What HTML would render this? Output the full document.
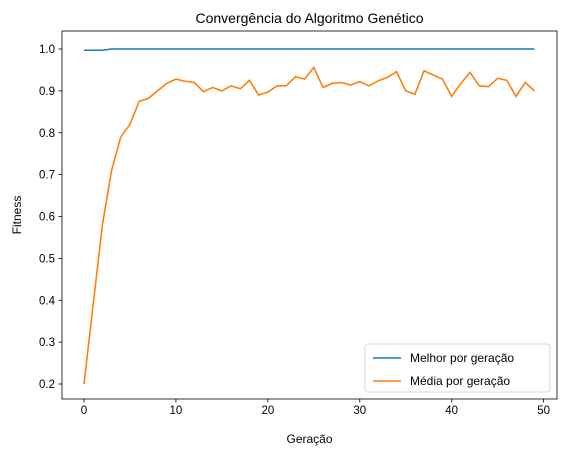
<!DOCTYPE html>
<html><head><meta charset="utf-8"><style>
body{margin:0;background:#fff}
svg{font-family:"Liberation Sans","DejaVu Sans",sans-serif}
</style></head><body>
<svg id="c" width="567" height="455"></svg>
<script>
const generations=[...Array(50).keys()];
const best=[0.997,0.997,0.997,1,1,1,1,1,1,1,1,1,1,1,1,1,1,1,1,1,1,1,1,1,1,1,1,1,1,1,1,1,1,1,1,1,1,1,1,1,1,1,1,1,1,1,1,1,1,1];
const mean=[0.20,0.39,0.58,0.71,0.79,0.82,0.875,0.882,0.90,0.918,0.928,0.923,0.92,0.898,0.908,0.900,0.912,0.905,0.925,0.89,0.897,0.912,0.912,0.934,0.928,0.956,0.908,0.918,0.92,0.914,0.922,0.912,0.924,0.932,0.946,0.90,0.892,0.948,0.938,0.928,0.887,0.918,0.944,0.912,0.91,0.93,0.925,0.887,0.92,0.90];
const xTicks=[0,10,20,30,40,50];
const yTicks=[0.2,0.3,0.4,0.5,0.6,0.7,0.8,0.9,1.0];
const NS="http://www.w3.org/2000/svg";
const svg=document.getElementById('c');
const L=62,R=557,T=31,B=399;
const xs=v=>84+v*(543.6-84)/50;
const ys=v=>384-(v-0.2)*(384-49)/0.8;
function mk(tag,attrs,parent){const e=document.createElementNS(NS,tag);for(const k in attrs)e.setAttribute(k,attrs[k]);(parent||svg).appendChild(e);return e;}
function txt(s,attrs){const e=mk('text',attrs);e.textContent=s;return e;}
const frame=mk('rect',{x:L,y:T,width:R-L,height:B-T,fill:'none',stroke:'#000','stroke-width':0.8});


xTicks.forEach(t=>{
  const g=mk('g',{});
  
  
  mk('line',{x1:xs(t),x2:xs(t),y1:B,y2:B+3.5,stroke:'#000','stroke-width':0.8},g);
  const e=mk('text',{x:xs(t),y:B+15,'text-anchor':'middle','font-size':11.5},g);e.textContent=t;
});
yTicks.forEach(t=>{
  const g=mk('g',{});
  
  
  mk('line',{x1:L-3.5,x2:L,y1:ys(t),y2:ys(t),stroke:'#000','stroke-width':0.8},g);
  const e=mk('text',{x:L-7,y:ys(t)+4,'text-anchor':'end','font-size':11.5},g);e.textContent=t.toFixed(1);
});
function line(data,color,name){
  const p=mk('polyline',{points:data.map((v,i)=>xs(generations[i])+','+ys(v)).join(' '),fill:'none',stroke:color,'stroke-width':1.6});
  
  
}
line(best,'#1f77b4','best-series-line');
line(mean,'#ff7f0e','mean-series-line');
const t1=txt('Convergência do Algoritmo Genético',{x:(L+R)/2,y:23,'text-anchor':'middle','font-size':14});

const t2=txt('Geração',{x:(L+R)/2,y:443,'text-anchor':'middle','font-size':12});

const t3=txt('Fitness',{x:0,y:0,'text-anchor':'middle','font-size':12,transform:'translate(21,'+((T+B)/2)+') rotate(-90)'});

const lg=mk('g',{});


mk('rect',{x:365,y:344,width:185,height:48,rx:3,fill:'#fff','fill-opacity':0.8,stroke:'#ccc','stroke-width':0.8},lg);
[['Melhor por geração','#1f77b4',358],['Média por geração','#ff7f0e',381]].forEach(([s,c,y],i)=>{
  const g=mk('g',{},lg);
  
  
  mk('line',{x1:373,x2:401,y1:y,y2:y,stroke:c,'stroke-width':1.6},g);
  const e=mk('text',{x:410,y:y+4,'font-size':12},g);e.textContent=s;
});
</script>
</body></html>
